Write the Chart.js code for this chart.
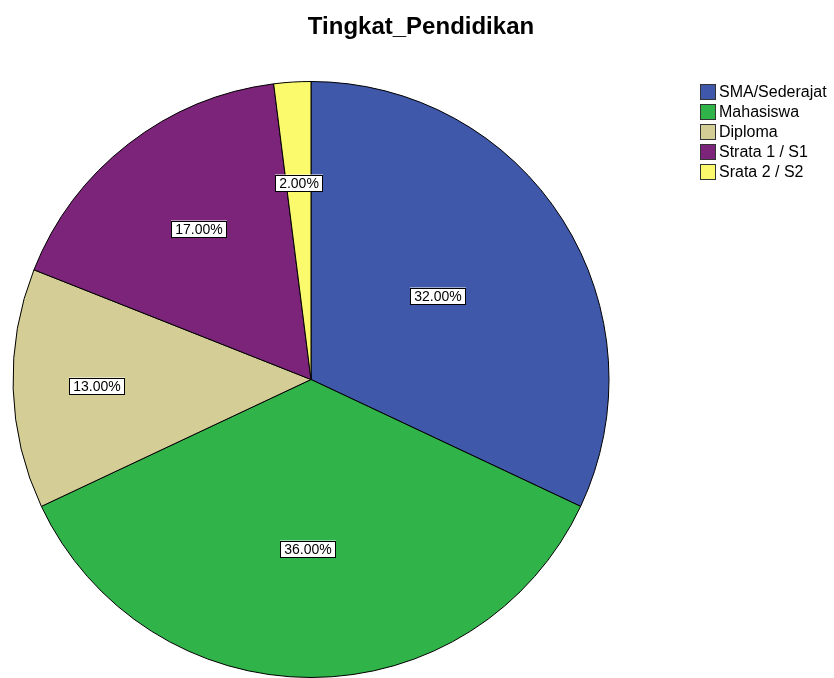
<!DOCTYPE html>
<html>
<head>
<meta charset="utf-8">
<script src="https://cdn.jsdelivr.net/npm/chart.js@4.4.1/dist/chart.umd.min.js"></script>
<style>
  html, body { margin: 0; padding: 0; background: #fff; }
  #wrap { width: 834px; height: 678px; position: relative; }
</style>
</head>
<body>
<div id="wrap"><canvas id="chart"></canvas></div>
<script>
const categories = ["SMA/Sederajat", "Mahasiswa", "Diploma", "Strata 1 / S1", "Srata 2 / S2"];
const percents = [32, 36, 13, 17, 2];
const sliceColors = ["#3f58a9", "#30b349", "#d4cd96", "#7b2479", "#fbf96c"];

// where each percentage box sits: fraction of radius, and angle shift in degrees
const labelRadius = [0.51, 0.568, 0.719, 0.63, 0.66];
const labelShift = [-1, 1, 0, 1, 0];

const pieLabels = {
  id: "pieLabels",
  afterDatasetsDraw(chart) {
    const c = chart.ctx;
    const meta = chart.getDatasetMeta(0);
    c.save();
    c.font = "14px 'Liberation Sans', Arial, sans-serif";
    c.textAlign = "center";
    c.textBaseline = "middle";
    meta.data.forEach((arc, i) => {
      const mid = (arc.startAngle + arc.endAngle) / 2 + labelShift[i] * Math.PI / 180;
      const r = arc.outerRadius * labelRadius[i];
      const x = Math.round(arc.x + Math.cos(mid) * r);
      const y = Math.round(arc.y + Math.sin(mid) * r);
      const txt = percents[i].toFixed(2) + "%";
      const w = Math.ceil(c.measureText(txt).width) + 8;
      const h = 17;
      c.fillStyle = "#fff";
      c.fillRect(x - w / 2, y - h / 2, w, h);
      c.strokeStyle = "#000";
      c.lineWidth = 1;
      c.strokeRect(Math.round(x - w / 2) + 0.5, Math.round(y - h / 2) + 0.5, w - 1, h - 1);
      c.fillStyle = "#000";
      c.fillText(txt, x, y + 1);
    });
    c.restore();
  }
};

const titleAndLegend = {
  id: "titleAndLegend",
  afterDraw(chart) {
    const c = chart.ctx;
    c.save();
    c.fillStyle = "#000";
    c.font = "bold 24px 'Liberation Sans', Arial, sans-serif";
    c.textAlign = "center";
    c.textBaseline = "alphabetic";
    c.fillText("Tingkat_Pendidikan", 421, 34);

    c.font = "16px 'Liberation Sans', Arial, sans-serif";
    c.textAlign = "left";
    c.textBaseline = "middle";
    categories.forEach((name, i) => {
      const y = 92 + i * 20;
      c.fillStyle = sliceColors[i];
      c.fillRect(700, y - 8, 16, 16);
      c.strokeStyle = "#333";
      c.lineWidth = 1;
      c.strokeRect(700.5, y - 7.5, 15, 15);
      c.fillStyle = "#000";
      c.fillText(name, 719, y + 1);
    });
    c.restore();
  }
};

new Chart(document.getElementById("chart"), {
  type: "pie",
  data: {
    labels: categories,
    datasets: [
      {
        data: percents,
        backgroundColor: sliceColors,
        borderColor: "#000",
        borderWidth: 1,
      },
    ],
  },
  options: {
    responsive: true,
    maintainAspectRatio: false,
    animation: false,
    layout: {
      padding: { left: 12, right: 224, top: 81, bottom: 0 },
    },
    plugins: {
      legend: { display: false },
      title: { display: false },
      tooltip: { enabled: false },
    },
  },
  plugins: [pieLabels, titleAndLegend],
});
</script>
</body>
</html>
